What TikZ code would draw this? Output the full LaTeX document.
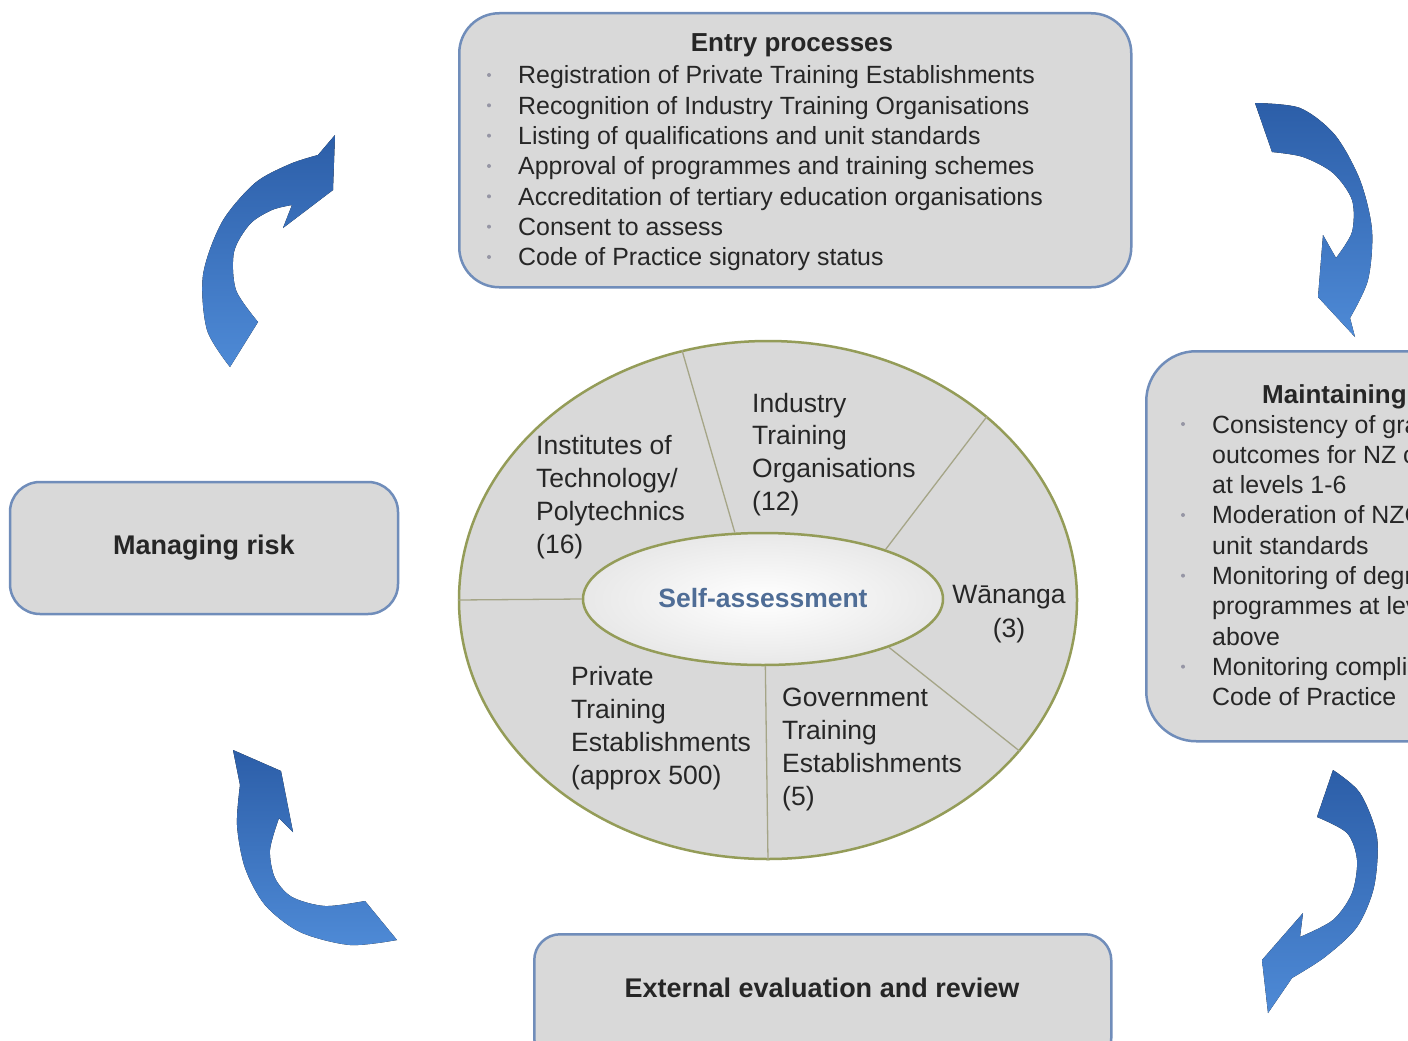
\documentclass[tikz,border=0pt]{standalone}
\usepackage{fontspec}
\setmainfont{Liberation Sans}
\usetikzlibrary{shapes.geometric}
\definecolor{boxfill}{RGB}{217,217,217}
\definecolor{boxline}{RGB}{112,141,186}
\definecolor{olivec}{RGB}{148,156,88}
\definecolor{divline}{RGB}{165,165,135}
\definecolor{txt}{RGB}{38,38,38}
\definecolor{selfblue}{RGB}{79,109,150}
\definecolor{arrowdark}{RGB}{44,94,168}
\definecolor{arrowlight}{RGB}{78,138,214}
\definecolor{bulletgray}{RGB}{150,150,165}
\tikzset{
  roundbox/.style={draw=boxline, line width=2.5pt, fill=boxfill},
  itemtext/.style={anchor=base west, inner sep=0pt, text=txt, font=\fontsize{24.9}{30}\selectfont},
  titletext/.style={anchor=base, inner sep=0pt, text=txt, font=\fontsize{26}{30}\selectfont\bfseries},
  boldlabel/.style={inner sep=0pt, text=txt, font=\fontsize{27}{30}\selectfont\bfseries},
  celltext/.style={anchor=base west, inner sep=0pt, text=txt, font=\fontsize{26.5}{33}\selectfont},
  bulletdot/.style={circle, fill=bulletgray, inner sep=0pt, minimum size=4pt},
  blockarrow/.style={top color=arrowdark, bottom color=arrowlight, draw=none},
  divider/.style={draw=divline, line width=1.3pt},
}
\begin{document}
\begin{tikzpicture}[x=1pt,y=-1pt]
\useasboundingbox (0,0) rectangle (1408,1041);
\clip (0,0) rectangle (1408,1041);
\fill[white] (0,0) rectangle (1408,1041);

% ---------- Entry processes box ----------
\node[roundbox, rounded corners=40pt, minimum width=672pt, minimum height=274pt, anchor=north west] (entry) at (458,12) {};
\node[titletext] (entryT) at (792,52) {Entry processes};
\foreach \t [count=\i] in {Registration of Private Training Establishments,
  Recognition of Industry Training Organisations,
  Listing of qualifications and unit standards,
  Approval of programmes and training schemes,
  Accreditation of tertiary education organisations,
  Consent to assess,
  Code of Practice signatory status} {
  \node[bulletdot] (eb\i) at (489,{75+30.33*(\i-1)}) {};
  \node[itemtext] (ei\i) at (518,{84+30.33*(\i-1)}) {\t};
}

% ---------- Maintaining box ----------
\node[roundbox, rounded corners=50pt, minimum width=330pt, minimum height=390pt, anchor=north west] (maint) at (1145,350) {};
\node[titletext, anchor=base west] (maintT) at (1262,403) {Maintaining};
\foreach \t [count=\i] in {Consistency of gra, outcomes for NZ c, at levels 1-6,
  Moderation of NZC, unit standards, Monitoring of degr, programmes at lev,
  above, Monitoring complia, Code of Practice} {
  \node[itemtext] (mi\i) at (1212,{433+30.33*(\i-1)}) {\t};
}
\foreach \i in {1,4,6,9} {
  \node[bulletdot] (mb\i) at (1183,{424+30.33*(\i-1)}) {};
}

% ---------- Managing risk ----------
\node[roundbox, rounded corners=30pt, minimum width=388pt, minimum height=132pt] (risk) at (204,548) {};
\node[boldlabel] (riskT) at (204,548) {Managing risk};

% ---------- External evaluation ----------
\node[roundbox, rounded corners=26pt, minimum width=577pt, minimum height=130pt, anchor=north west] (ext) at (533,933) {};
\node[boldlabel] (extT) at (822,988) {External evaluation and review};

% ---------- Central ellipse ----------
\node[ellipse, draw=olivec, line width=2.5pt, fill=boxfill, minimum width=618pt, minimum height=518pt] (outer) at (768,600) {};
\node[ellipse, draw=olivec, line width=2.5pt, inner color=white, outer color=black!9, minimum width=360pt, minimum height=132pt] (inner) at (763,599) {};
\draw[divider] (outer.109) -- (inner.113);
\draw[divider] (outer.40) -- (inner.22);
\draw[divider] (outer.-31) -- (inner.-21);
\draw[divider] (outer.-90) -- (inner.-88);
\draw[divider] (outer.180) -- (inner.180);
\node[inner sep=0pt, text=selfblue, font=\fontsize{26.5}{30}\selectfont\bfseries] (selfT) at (763,598) {Self-assessment};

\foreach \t [count=\i] in {Institutes of, Technology/, Polytechnics, (16)}
  \node[celltext] (it\i) at (536,{454+33*(\i-1)}) {\t};
\foreach \t [count=\i] in {Industry, Training, Organisations, (12)}
  \node[celltext] (io\i) at (752,{412+32.7*(\i-1)}) {\t};
\node[celltext, anchor=base] (wa1) at (1009,603) {Wānanga};
\node[celltext, anchor=base] (wa2) at (1009,637) {(3)};
\foreach \t [count=\i] in {Private, Training, Establishments, (approx 500)}
  \node[celltext] (pt\i) at (571,{685+33*(\i-1)}) {\t};
\foreach \t [count=\i] in {Government, Training, Establishments, (5)}
  \node[celltext] (gt\i) at (782,{706+33.3*(\i-1)}) {\t};

% ---------- Curved block arrows ----------
% top left
\fill[blockarrow] (230,367) -- (258,322)
  -- plot[smooth] coordinates {(258,322) (236,290) (234,252) (250,224) (272,210) (292,205)}
  -- (283,228) -- (333,190) -- (335,135) -- (318,155)
  -- plot[smooth] coordinates {(318,155) (290,164) (255,183) (222,222) (203,275) (207,330) (230,367)}
  -- cycle;
% top right
\fill[blockarrow] (1255,103)
  -- plot[smooth] coordinates {(1255,103) (1300,108) (1335,135) (1360,180) (1372,230) (1368,280) (1350,318)}
  -- (1355,337) -- (1318,297) -- (1323,235) -- (1336,258)
  -- plot[smooth] coordinates {(1336,258) (1352,232) (1352,200) (1333,173) (1303,157) (1272,152)}
  -- cycle;
% bottom left
\fill[blockarrow] (233,750) -- (281,771) -- (293,832) -- (279,818)
  -- plot[smooth] coordinates {(279,818) (270,850) (275,878) (292,897) (325,906) (365,901)}
  -- (397,940)
  -- plot[smooth] coordinates {(397,940) (350,945) (300,932) (265,905) (245,868) (237,825) (240,785)}
  -- cycle;
% bottom right
\fill[blockarrow] (1333,770)
  -- plot[smooth] coordinates {(1333,770) (1360,793) (1377,837) (1374,887) (1357,927) (1325,957) (1292,978)}
  -- (1268,1013) -- (1262,960) -- (1303,913) -- (1300,937)
  -- plot[smooth] coordinates {(1300,937) (1333,920) (1352,893) (1357,860) (1347,833) (1317,817)}
  -- cycle;
\end{tikzpicture}
\end{document}
